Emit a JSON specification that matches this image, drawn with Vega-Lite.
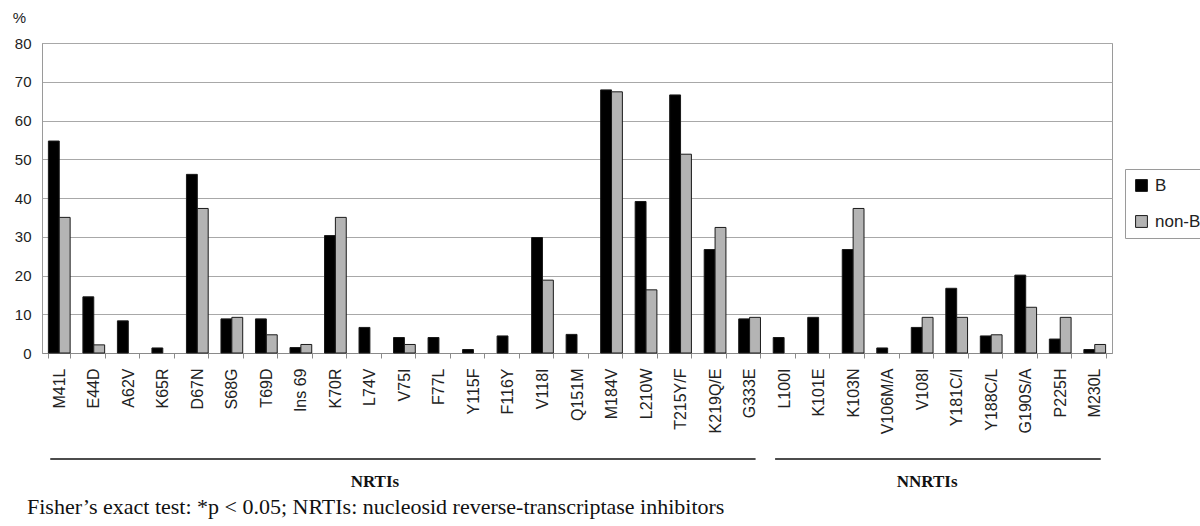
{
  "$schema": "https://vega.github.io/schema/vega-lite/v6.json",
  "width": 1070,
  "height": 310,
  "autosize": {"type": "none"},
  "padding": {"left": 42, "top": 43, "right": 88, "bottom": 173},
  "background": "white",
  "config": {
    "font": "Liberation Sans",
    "view": {"stroke": "#9a9a9a", "strokeWidth": 1}
  },
  "datasets": {
    "bars": [
      {"mut": "M41L", "group": "B", "pct": 54.7}, {"mut": "M41L", "group": "non-B", "pct": 35.0},
      {"mut": "E44D", "group": "B", "pct": 14.5}, {"mut": "E44D", "group": "non-B", "pct": 2.1},
      {"mut": "A62V", "group": "B", "pct": 8.3},
      {"mut": "K65R", "group": "B", "pct": 1.3},
      {"mut": "D67N", "group": "B", "pct": 46.1}, {"mut": "D67N", "group": "non-B", "pct": 37.3},
      {"mut": "S68G", "group": "B", "pct": 8.8}, {"mut": "S68G", "group": "non-B", "pct": 9.2},
      {"mut": "T69D", "group": "B", "pct": 8.8}, {"mut": "T69D", "group": "non-B", "pct": 4.7},
      {"mut": "Ins 69", "group": "B", "pct": 1.4}, {"mut": "Ins 69", "group": "non-B", "pct": 2.2},
      {"mut": "K70R", "group": "B", "pct": 30.3}, {"mut": "K70R", "group": "non-B", "pct": 35.0},
      {"mut": "L74V", "group": "B", "pct": 6.6},
      {"mut": "V75I", "group": "B", "pct": 4.0}, {"mut": "V75I", "group": "non-B", "pct": 2.2},
      {"mut": "F77L", "group": "B", "pct": 4.0},
      {"mut": "Y115F", "group": "B", "pct": 0.9},
      {"mut": "F116Y", "group": "B", "pct": 4.4},
      {"mut": "V118I", "group": "B", "pct": 29.8}, {"mut": "V118I", "group": "non-B", "pct": 18.8},
      {"mut": "Q151M", "group": "B", "pct": 4.8},
      {"mut": "M184V", "group": "B", "pct": 67.9}, {"mut": "M184V", "group": "non-B", "pct": 67.4},
      {"mut": "L210W", "group": "B", "pct": 39.1}, {"mut": "L210W", "group": "non-B", "pct": 16.3},
      {"mut": "T215Y/F", "group": "B", "pct": 66.6}, {"mut": "T215Y/F", "group": "non-B", "pct": 51.3},
      {"mut": "K219Q/E", "group": "B", "pct": 26.7}, {"mut": "K219Q/E", "group": "non-B", "pct": 32.4},
      {"mut": "G333E", "group": "B", "pct": 8.8}, {"mut": "G333E", "group": "non-B", "pct": 9.2},
      {"mut": "L100I", "group": "B", "pct": 4.0},
      {"mut": "K101E", "group": "B", "pct": 9.2},
      {"mut": "K103N", "group": "B", "pct": 26.7}, {"mut": "K103N", "group": "non-B", "pct": 37.3},
      {"mut": "V106M/A", "group": "B", "pct": 1.3},
      {"mut": "V108I", "group": "B", "pct": 6.6}, {"mut": "V108I", "group": "non-B", "pct": 9.2},
      {"mut": "Y181C/I", "group": "B", "pct": 16.7}, {"mut": "Y181C/I", "group": "non-B", "pct": 9.2},
      {"mut": "Y188C/L", "group": "B", "pct": 4.4}, {"mut": "Y188C/L", "group": "non-B", "pct": 4.7},
      {"mut": "G190S/A", "group": "B", "pct": 20.1}, {"mut": "G190S/A", "group": "non-B", "pct": 11.8},
      {"mut": "P225H", "group": "B", "pct": 3.6}, {"mut": "P225H", "group": "non-B", "pct": 9.2},
      {"mut": "M230L", "group": "B", "pct": 0.9}, {"mut": "M230L", "group": "non-B", "pct": 2.2}
    ],
    "classes": [
      {"cls": "NRTIs", "from": "M41L", "to": "G333E", "at": "L74V"},
      {"cls": "NNRTIs", "from": "L100I", "to": "M230L", "at": "V108I"}
    ],
    "note": [
      {"txt": "Fisher’s exact test: *p < 0.05; NRTIs: nucleosid reverse-transcriptase inhibitors"}
    ]
  },
  "layer": [
    {
      "data": {"name": "bars"},
      "mark": {"type": "bar", "stroke": "#1a1a1a", "strokeWidth": 1},
      "encoding": {
        "x": {
          "field": "mut",
          "type": "nominal",
          "title": null,
          "scale": {
            "domain": ["M41L", "E44D", "A62V", "K65R", "D67N", "S68G", "T69D", "Ins 69", "K70R", "L74V", "V75I", "F77L", "Y115F", "F116Y", "V118I", "Q151M", "M184V", "L210W", "T215Y/F", "K219Q/E", "G333E", "L100I", "K101E", "K103N", "V106M/A", "V108I", "Y181C/I", "Y188C/L", "G190S/A", "P225H", "M230L"],
            "paddingInner": 0.37,
            "paddingOuter": 0.185
          },
          "axis": {
            "labelAngle": -90,
            "labelAlign": "right",
            "labelBaseline": "middle",
            "labelFontSize": 16,
            "labelColor": "#222222",
            "labelPadding": 10,
            "tickBand": "extent",
            "tickSize": 5,
            "tickColor": "#8a8a8a",
            "domainColor": "#8a8a8a",
            "labelOverlap": false
          }
        },
        "xOffset": {"field": "group", "type": "nominal", "sort": ["B", "non-B"], "scale": {"paddingInner": 0, "paddingOuter": 0}},
        "y": {
          "field": "pct",
          "type": "quantitative",
          "scale": {"domain": [0, 80], "nice": false},
          "axis": {
            "values": [0, 10, 20, 30, 40, 50, 60, 70, 80],
            "title": "%",
            "titleAngle": 0,
            "titleX": -23,
            "titleY": -26,
            "titleAlign": "center",
            "titleBaseline": "middle",
            "titleFontWeight": "normal",
            "titleFontSize": 15,
            "titleColor": "#222222",
            "labelFontSize": 15,
            "labelColor": "#222222",
            "labelPadding": 11,
            "ticks": false,
            "domainColor": "#9a9a9a",
            "gridColor": "#a8a8a8",
            "gridWidth": 1
          }
        },
        "color": {
          "field": "group",
          "type": "nominal",
          "scale": {"domain": ["B", "non-B"], "range": ["#000000", "#b4b4b4"]},
          "legend": {
            "title": null,
            "orient": "none",
            "legendX": 1083,
            "legendY": 126,
            "strokeColor": "#9a9a9a",
            "padding": 8,
            "symbolType": "square",
            "symbolSize": 140,
            "symbolStrokeColor": "#1a1a1a",
            "symbolStrokeWidth": 1,
            "labelFontSize": 17,
            "labelColor": "#222222",
            "labelOffset": 5,
            "rowPadding": 18
          }
        }
      }
    },
    {
      "data": {"name": "classes"},
      "mark": {"type": "rule", "color": "#111111", "strokeWidth": 1.5, "xOffset": -9, "x2Offset": 6},
      "encoding": {
        "x": {"field": "from", "type": "nominal"},
        "x2": {"field": "to"},
        "y": {"value": 416}
      }
    },
    {
      "data": {"name": "classes"},
      "mark": {"type": "text", "font": "Liberation Serif", "fontWeight": "bold", "fontSize": 17, "color": "#111111", "baseline": "middle", "align": "center", "dx": 5},
      "encoding": {
        "x": {"field": "at", "type": "nominal"},
        "y": {"value": 439},
        "text": {"field": "cls"}
      }
    },
    {
      "data": {"name": "note"},
      "mark": {"type": "text", "font": "Liberation Serif", "fontSize": 22, "color": "#111111", "baseline": "middle", "align": "left"},
      "encoding": {
        "x": {"value": -15},
        "y": {"value": 464},
        "text": {"field": "txt"}
      }
    }
  ]
}
